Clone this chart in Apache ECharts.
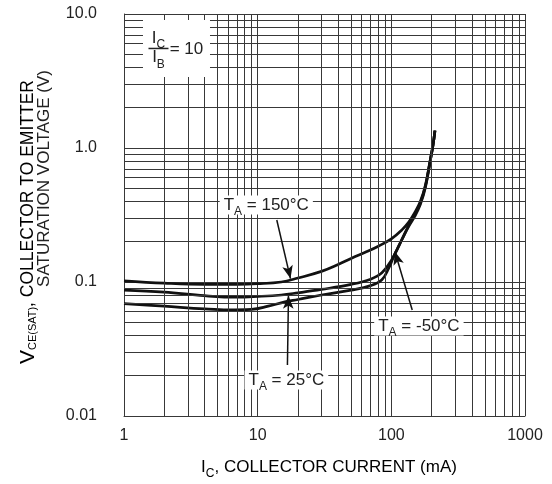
<!DOCTYPE html>
<html><head><meta charset="utf-8">
<script src="https://cdn.jsdelivr.net/npm/echarts@6/dist/echarts.min.js"></script>
<style>html,body{margin:0;padding:0;background:#fff}#c{width:552px;height:484px}</style>
</head><body><div id="c"></div>
<script>
// ---- data ----
const xTickValues = [1, 10, 100, 1000];
const xTickLabels = ['1', '10', '100', '1000'];
const yTickValues = [0.01, 0.1, 1, 10];
const yTickLabels = ['0.01', '0.1', '1.0', '10.0'];
const gridMultipliers = [2, 3, 4, 5, 6, 7, 8, 9];
const xDecades = [1, 10, 100];
const yDecades = [0.01, 0.1, 1];

const ic150 = [1, 2, 4, 7, 10, 15, 20, 30, 40, 50, 65, 80, 100, 120, 135, 150, 165, 180, 195, 205, 212];
const v150  = [0.102, 0.098, 0.096, 0.096, 0.097, 0.1, 0.107, 0.12, 0.135, 0.15, 0.168, 0.185, 0.21, 0.245, 0.28, 0.33, 0.4, 0.53, 0.8, 1.05, 1.35];

const ic25 = [1, 2, 4, 7, 10, 15, 20, 30, 50, 70, 85, 100, 115, 135, 150, 165, 180, 195, 205, 212];
const v25  = [0.087, 0.084, 0.079, 0.077, 0.078, 0.08, 0.083, 0.088, 0.096, 0.105, 0.117, 0.145, 0.19, 0.265, 0.32, 0.39, 0.52, 0.8, 1.05, 1.35];

const icM50 = [1, 2, 4, 6, 9, 12, 16, 20, 30, 50, 70, 85, 95, 105, 115, 125, 135, 150, 165, 180, 195, 205, 212];
const vM50  = [0.069, 0.066, 0.063, 0.062, 0.0625, 0.066, 0.071, 0.074, 0.08, 0.087, 0.094, 0.104, 0.125, 0.158, 0.19, 0.225, 0.26, 0.31, 0.38, 0.51, 0.79, 1.05, 1.35];

// annotation anchors (data coordinates)
const ratioBox = [2.47, 5.53];
const label150 = [11.6, 0.376];
const label25 = [16.4, 0.0186];
const labelM50 = [160.8, 0.047];
const arrow150 = [[13.9, 0.29], [17.6, 0.106]];
const arrow25 = [[16.7, 0.024], [17.0, 0.079]];
const arrowM50 = [[143.3, 0.0618], [106.4, 0.168]];

// ---- chart ----
const FONT = 'Liberation Sans, Arial, Helvetica, sans-serif';
const TXT = '#222';
const GRID = '#383838';
const zip = (a, b) => a.map((v, i) => [v, b[i]]);
const pickLabel = (vals, labels) => v => {
  const i = vals.findIndex(t => Math.abs(Math.log10(t) - Math.log10(v)) < 1e-6);
  return i >= 0 ? labels[i] : '';
};
const xGrid = [], yGrid = [];
xDecades.forEach(d => gridMultipliers.forEach(m => xGrid.push(d * m)));
yDecades.forEach(d => gridMultipliers.forEach(m => yGrid.push(d * m)));

const subRich = (size) => ({
  n: { fontSize: size, fontFamily: FONT, color: TXT, lineHeight: size + 1, verticalAlign: 'top' },
  s: { fontSize: 12, fontFamily: FONT, color: TXT, lineHeight: 12, padding: [Math.round(size * 0.5), 0, 0, 0], verticalAlign: 'top' }
});

const tLabel = (coord, text) => ({
  coord: coord, symbol: 'rect', symbolSize: 0,
  label: {
    show: true, position: 'inside',
    formatter: '{n|T}{s|A}{n| = ' + text + '}',
    rich: subRich(17), backgroundColor: '#fff', padding: [1, 4, 0, 4]
  }
});

const curveStyle = { color: '#111', width: 2.7 };
const chart = echarts.init(document.getElementById('c'), null, { renderer: 'canvas' });
chart.setOption({
  animation: false,
  backgroundColor: '#fff',
  grid: { left: 124, right: 27, top: 14, bottom: 68 },
  xAxis: {
    type: 'log', logBase: 10, min: 1, max: 1000,
    axisLine: { show: true, lineStyle: { color: GRID, width: 1 } },
    axisTick: { show: false },
    splitLine: { show: true, lineStyle: { color: GRID, width: 1 } },
    axisLabel: { formatter: pickLabel(xTickValues, xTickLabels), color: TXT, fontSize: 16, fontFamily: FONT, margin: 12, showMinLabel: true, showMaxLabel: true }
  },
  yAxis: {
    type: 'log', logBase: 10, min: 0.01, max: 10,
    axisLine: { show: true, lineStyle: { color: GRID, width: 1 } },
    axisTick: { show: false },
    splitLine: { show: true, lineStyle: { color: GRID, width: 1 } },
    axisLabel: { formatter: pickLabel(yTickValues, yTickLabels), color: TXT, fontSize: 16, fontFamily: FONT, margin: 27, showMinLabel: true, showMaxLabel: true }
  },
  graphic: [
    { type: 'text', x: 329, y: 468, silent: true,
      style: { text: '{n|I}{s|C}{n|, COLLECTOR CURRENT (mA)}', rich: subRich(17), align: 'center', verticalAlign: 'middle' } },
    { type: 'text', x: 28, y: 80, rotation: Math.PI / 2, silent: true,
      style: { text: '{v|V}{s|CE(SAT)}{n|, COLLECTOR TO EMITTER}', align: 'right', verticalAlign: 'middle',
        rich: { v: { fontSize: 21, fontFamily: FONT, color: TXT, lineHeight: 20, verticalAlign: 'top' }, s: { fontSize: 11, fontFamily: FONT, color: TXT, lineHeight: 11, padding: [9, 0, 0, 0], verticalAlign: 'top' }, n: { fontSize: 17.5, fontFamily: FONT, color: TXT, lineHeight: 20, padding: [1, 0, 0, 0], verticalAlign: 'top' } } } },
    { type: 'text', x: 44, y: 70, rotation: Math.PI / 2, silent: true,
      style: { text: 'SATURATION VOLTAGE (V)', align: 'right', verticalAlign: 'middle', fontSize: 17, fontFamily: FONT, fill: TXT } }
  ],
  series: [
    {
      name: 'grid', type: 'line', data: [], silent: true, z: 1,
      markLine: {
        silent: true, symbol: ['none', 'none'], label: { show: false },
        lineStyle: { color: GRID, width: 1, type: 'solid' },
        emphasis: { disabled: true },
        data: xGrid.map(v => ({ xAxis: v })).concat(yGrid.map(v => ({ yAxis: v })))
      }
    },
    {
      name: 'TA = 150°C', type: 'line', data: zip(ic150, v150), smooth: 0.4,
      showSymbol: false, lineStyle: curveStyle, z: 3, silent: true,
      markLine: {
        silent: true, symbol: ['none', 'arrow'], symbolSize: [8, 13], label: { show: false },
        lineStyle: { color: '#111', width: 1.5, type: 'solid' }, emphasis: { disabled: true },
        data: [
          [{ coord: arrow150[0] }, { coord: arrow150[1] }],
          [{ coord: arrow25[0] }, { coord: arrow25[1] }],
          [{ coord: arrowM50[0] }, { coord: arrowM50[1] }]
        ]
      },
      markPoint: {
        silent: true,
        data: [
          { coord: ratioBox, symbol: 'rect', symbolSize: [67, 57], itemStyle: { color: '#fff' }, label: { show: false } },
          { coord: ratioBox, symbol: 'rect', symbolSize: 0,
            label: { show: true, position: 'inside', offset: [-18, 0],
              formatter: '{n|I}{s|C}\n{bar|}\n{n|I}{s|B}',
              rich: Object.assign(subRich(17), { bar: { width: 20, height: 1.5, backgroundColor: '#222' } }) } },
          { coord: ratioBox, symbol: 'rect', symbolSize: 0,
            label: { show: true, position: 'inside', offset: [10, 1], formatter: '= 10', fontSize: 17, fontFamily: FONT, color: TXT } },
          tLabel(label150, '150°C'),
          tLabel(label25, '25°C'),
          tLabel(labelM50, '-50°C')
        ]
      }
    },
    { name: 'TA = 25°C', type: 'line', data: zip(ic25, v25), smooth: 0.4, showSymbol: false, lineStyle: curveStyle, z: 3, silent: true },
    { name: 'TA = -50°C', type: 'line', data: zip(icM50, vM50), smooth: 0.4, showSymbol: false, lineStyle: curveStyle, z: 3, silent: true }
  ]
});
</script></body></html>
